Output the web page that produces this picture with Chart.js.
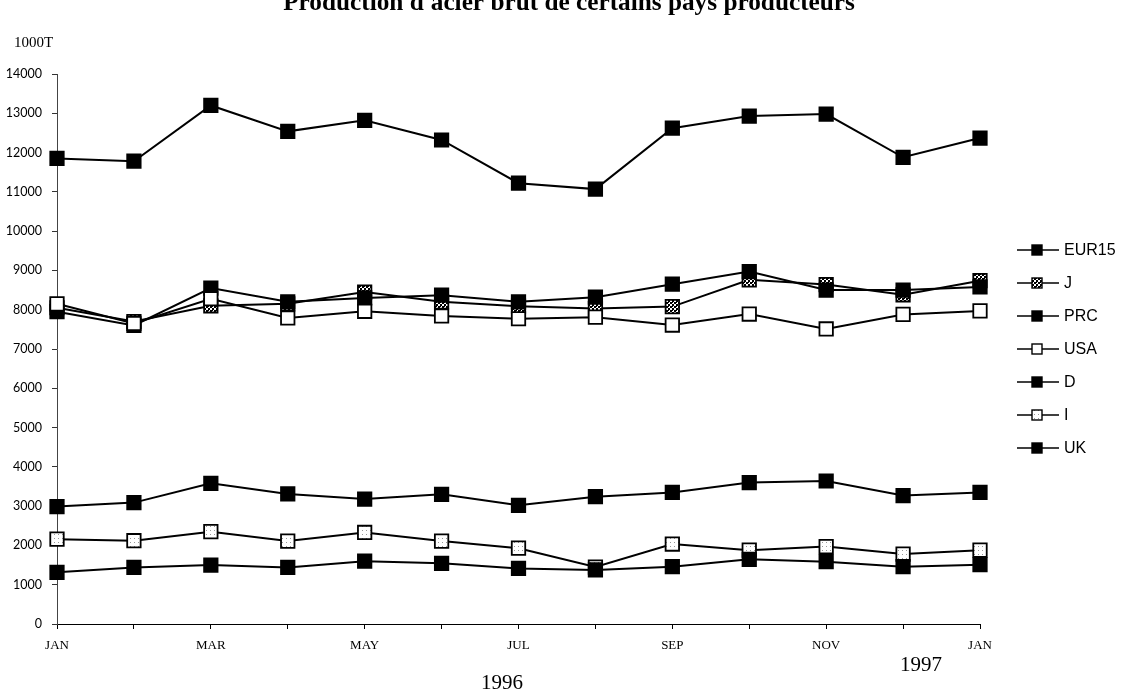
<!DOCTYPE html>
<html>
<head>
<meta charset="utf-8">
<script src="https://cdn.jsdelivr.net/npm/chart.js@4/dist/chart.umd.min.js"></script>
<style>
  html,body{margin:0;padding:0;background:#fff;}
  #wrap{width:1138px;height:695px;position:relative;}
</style>
</head>
<body>
<div id="wrap"><canvas id="c" width="1138" height="695"></canvas></div>
<script>
// ---- data ----
const months = ['JAN','','MAR','','MAY','','JUL','','SEP','','NOV','','JAN'];
const yTicks = [0,1000,2000,3000,4000,5000,6000,7000,8000,9000,10000,11000,12000,13000,14000];
const seriesNames = ['EUR15','J','PRC','USA','D','I','UK'];
const eur15 = [11850, 11780, 13200, 12540, 12820, 12320, 11220, 11070, 12620, 12930, 12980, 11880, 12370];
const japan = [8050, 7700, 8100, 8150, 8450, 8200, 8090, 8030, 8080, 8760, 8640, 8380, 8740];
const prc   = [7950, 7600, 8550, 8200, 8300, 8370, 8200, 8320, 8650, 8970, 8500, 8500, 8580];
const usa   = [8150, 7650, 8280, 7790, 7960, 7840, 7770, 7810, 7610, 7890, 7510, 7880, 7970];
const germany = [2990, 3090, 3580, 3310, 3180, 3300, 3020, 3240, 3350, 3600, 3640, 3270, 3350];
const italy   = [2160, 2120, 2350, 2110, 2330, 2110, 1930, 1450, 2035, 1880, 1970, 1780, 1880];
const uk      = [1315, 1440, 1500, 1440, 1600, 1545, 1415, 1375, 1460, 1645, 1585, 1460, 1510];
const titleText = "Production d'acier brut de certains pays producteurs";
const unitText = '1000T';
const year1 = '1996';
const year2 = '1997';

// ---- patterns for hatched markers ----
function makePattern(kind){
  const p = document.createElement('canvas');
  p.width = 4; p.height = 4;
  const g = p.getContext('2d');
  g.fillStyle = '#fff'; g.fillRect(0,0,4,4);
  g.fillStyle = '#000';
  if (kind === 'dark'){
    g.fillRect(0,0,2,2); g.fillRect(2,2,2,2); g.fillRect(0,2,1,1);
  } else {
    g.fillStyle = '#999'; g.fillRect(2,2,1,1);
  }
  return g.createPattern(p, 'repeat');
}
const patJ = makePattern('dark');
const patI = makePattern('light');

const fills = ['#000', patJ, '#000', '#fff', '#000', patI, '#000'];
const values = [eur15, japan, prc, usa, germany, italy, uk];

const datasets = values.map((v, i) => ({
  label: seriesNames[i],
  data: v,
  borderColor: '#000',
  borderWidth: 2,
  pointStyle: 'rect',
  pointRadius: 9.5,
  pointHoverRadius: 9.5,
  pointBackgroundColor: fills[i],
  pointBorderColor: '#000',
  pointBorderWidth: 1.8,
  tension: 0,
  fill: false,
  clip: false,
  order: -i
}));

const decor = {
  id: 'decor',
  afterDraw(chart){
    const c = chart.ctx;
    c.save();
    // title
    c.fillStyle = '#000';
    c.font = 'bold 20px "Liberation Serif"';
    const w = c.measureText(titleText).width;
    const fs = 20 * 572 / w;
    c.font = 'bold ' + fs.toFixed(2) + 'px "Liberation Serif"';
    c.textAlign = 'center';
    c.textBaseline = 'alphabetic';
    c.fillText(titleText, 569, 10);
    // unit
    c.font = '15px "Liberation Serif"';
    c.textAlign = 'left';
    c.fillText(unitText, 14, 47);
    // years
    c.font = '21px "Liberation Serif"';
    c.textAlign = 'center';
    c.fillText(year1, 502, 689);
    c.fillText(year2, 921, 671);
    // legend
    const ds = chart.data.datasets;
    c.font = '16px "Liberation Sans"';
    c.textAlign = 'left';
    c.textBaseline = 'middle';
    for (let i = 0; i < ds.length; i++){
      const y = 250 + i * 33;
      c.strokeStyle = '#000';
      c.lineWidth = 1.5;
      c.beginPath(); c.moveTo(1017, y); c.lineTo(1059, y); c.stroke();
      c.fillStyle = ds[i].pointBackgroundColor;
      c.fillRect(1032, y - 5, 10, 10);
      c.lineWidth = 1.4;
      c.strokeRect(1032, y - 5, 10, 10);
      c.fillStyle = '#000';
      c.fillText(ds[i].label, 1064, y + 1);
    }
    c.restore();
  }
};

new Chart(document.getElementById('c'), {
  type: 'line',
  data: { labels: months, datasets },
  options: {
    responsive: false,
    devicePixelRatio: 1,
    animation: false,
    events: [],
    layout: { padding: { top: 74, right: 158, left: 0, bottom: 0 } },
    plugins: { legend: { display: false }, title: { display: false }, tooltip: { enabled: false } },
    scales: {
      x: {
        type: 'category',
        offset: false,
        grid: { display: true, drawOnChartArea: false, drawTicks: true, tickLength: 5, color: '#000', lineWidth: 1 },
        border: { display: true, color: '#000', width: 1 },
        ticks: {
          autoSkip: false, maxRotation: 0, minRotation: 0, padding: 9,
          color: '#000', font: { family: '"Liberation Serif"', size: 13 }
        },
        afterFit(scale){ scale.height = 71; }
      },
      y: {
        min: 0, max: 14000,
        afterBuildTicks(scale){ scale.ticks = yTicks.map(v => ({ value: v })); },
        grid: { display: true, drawOnChartArea: false, drawTicks: true, tickLength: 5, color: '#333', lineWidth: 1 },
        border: { display: true, color: '#444', width: 1 },
        ticks: {
          padding: 10, color: '#000',
          font: { family: 'Lato', size: 12.5 },
          callback: v => String(v)
        },
        afterFit(scale){ scale.width = 57; }
      }
    }
  },
  plugins: [decor]
});
</script>
</body>
</html>
